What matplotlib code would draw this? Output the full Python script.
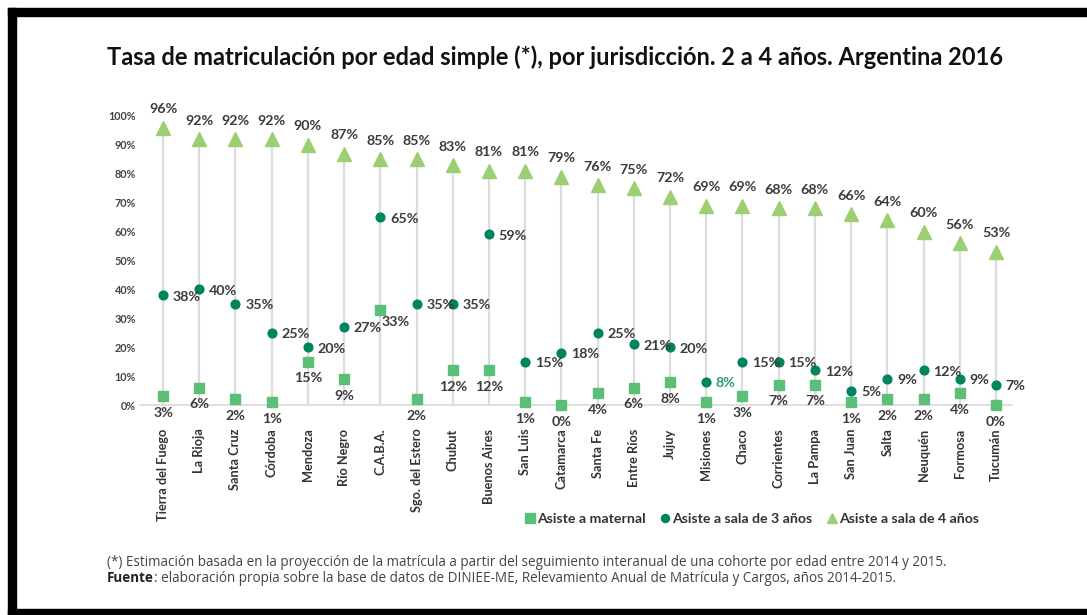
import matplotlib
matplotlib.use("Agg")
import matplotlib.pyplot as plt
from matplotlib.patches import Rectangle
from matplotlib.lines import Line2D

categories = ["Tierra del Fuego", "La Rioja", "Santa Cruz", "Córdoba", "Mendoza",
              "Río Negro", "C.A.B.A.", "Sgo. del Estero", "Chubut", "Buenos Aires",
              "San Luis", "Catamarca", "Santa Fe", "Entre Ríos", "Jujuy", "Misiones",
              "Chaco", "Corrientes", "La Pampa", "San Juan", "Salta", "Neuquén",
              "Formosa", "Tucumán"]
sala4 = [96, 92, 92, 92, 90, 87, 85, 85, 83, 81, 81, 79, 76, 75, 72, 69, 69, 68, 68, 66, 64, 60, 56, 53]
sala3 = [38, 40, 35, 25, 20, 27, 65, 35, 35, 59, 15, 18, 25, 21, 20, 8, 15, 15, 12, 5, 9, 12, 9, 7]
maternal = [3, 6, 2, 1, 15, 9, 33, 2, 12, 12, 1, 0, 4, 6, 8, 1, 3, 7, 7, 1, 2, 2, 4, 0]
yticks = [0, 10, 20, 30, 40, 50, 60, 70, 80, 90, 100]

title = "Tasa de matriculación por edad simple (*), por jurisdicción. 2 a 4 años. Argentina 2016"
legend_labels = ["Asiste a maternal", "Asiste a sala de 3 años", "Asiste a sala de 4 años"]
foot1 = "(*) Estimación basada en la proyección de la matrícula a partir del seguimiento interanual de una cohorte por edad entre 2014 y 2015."
foot2a = "Fuente"
foot2b = ": elaboración propia sobre la base de datos de DINIEE-ME, Relevamiento Anual de Matrícula y Cargos, años 2014-2015."

C_TRI = "#9ccf72"
C_SQ = "#5cbf78"
C_CIR = "#00845f"
C_LINE = "#dcdcdc"
C_TXT = "#3b3b3b"

plt.rcParams['font.family'] = ['Lato', 'DejaVu Sans']

W, H = 1087, 615
fig = plt.figure(figsize=(W / 100, H / 100), dpi=100)
fig.patch.set_facecolor("white")

# axes placement in pixels
x0_px, x_last_px = 163, 996
ax_left_px, ax_right_px = 140, 1012
y0_px, y100_px = 405, 116
step = (x_last_px - x0_px) / (len(categories) - 1)
xlim_lo = -(x0_px - ax_left_px) / step
xlim_hi = (len(categories) - 1) + (ax_right_px - x_last_px) / step

ax = fig.add_axes([ax_left_px / W, (H - y0_px) / H,
                   (ax_right_px - ax_left_px) / W, (y0_px - y100_px) / H])
ax.set_xlim(xlim_lo, xlim_hi)
ax.set_ylim(0, 100)
for s in ["top", "right", "left"]:
    ax.spines[s].set_visible(False)
ax.spines["bottom"].set_color("#d9d9d9")
ax.spines["bottom"].set_linewidth(1.2)

xs = list(range(len(categories)))
ax.vlines(xs, 0, sala4, color=C_LINE, linewidth=1.6, zorder=1)
ax.plot(xs, maternal, linestyle="none", marker="s", markersize=7.2, color=C_SQ, zorder=3, clip_on=False)
ax.plot(xs, sala3, linestyle="none", marker="o", markersize=6.3, color=C_CIR, zorder=3, clip_on=False)
ax.plot(xs, sala4, linestyle="none", marker="^", markersize=9.5, color=C_TRI, zorder=3, clip_on=False)

lab_kw = dict(textcoords="offset points", fontsize=10.3, fontweight="bold", color=C_TXT)
for i in xs:
    ax.annotate(f"{sala4[i]}%", (i, sala4[i]), xytext=(0, 9), ha="center", va="bottom", **lab_kw)
    col = "#2e9a78" if categories[i] == "Misiones" else C_TXT
    kw = dict(lab_kw)
    kw["color"] = col
    ax.annotate(f"{sala3[i]}%", (i, sala3[i]), xytext=(7, -1), ha="left", va="center", **kw)
    if categories[i] == "C.A.B.A.":
        ax.annotate(f"{maternal[i]}%", (i, maternal[i]), xytext=(1, -9), ha="left", va="center", **lab_kw)
    else:
        ax.annotate(f"{maternal[i]}%", (i, maternal[i]), xytext=(0, -12), ha="center", va="center", **lab_kw)

ax.set_yticks(yticks)
ax.set_yticklabels([f"{t}%" for t in yticks], fontsize=7.8, fontweight="bold", color="#444444")
ax.set_xticks(xs)
ax.set_xticklabels(categories, rotation=90, fontsize=9.2, fontweight="bold", color="#333333",
                   va="top", ha="center")
ax.tick_params(axis="x", length=0, pad=17)
ax.tick_params(axis="y", length=0, pad=3)

# legend
handles = [
    Line2D([], [], linestyle="none", marker="s", markersize=7.5, color=C_SQ),
    Line2D([], [], linestyle="none", marker="o", markersize=5.8, color=C_CIR),
    Line2D([], [], linestyle="none", marker="^", markersize=7, color=C_TRI),
]
leg = fig.legend(handles, legend_labels, loc="center", bbox_to_anchor=(751 / W, 1 - 519 / H),
                 ncol=3, frameon=False, handletextpad=0.0, columnspacing=0.9,
                 handlelength=1.0, prop=dict(size=10.2, weight="bold"))
for t in leg.get_texts():
    t.set_color("#333333")

# title
fig.text(107 / W, 1 - 57 / H, title, fontsize=17, fontweight="bold", color="#111111",
         ha="left", va="center")

# footnotes
foot_font = ['Open Sans', 'DejaVu Sans']
fs = 9.75
fig.text(107 / W, 1 - 562 / H, foot1, fontsize=fs, family=foot_font, color="#444444",
         ha="left", va="center")
t2 = fig.text(107 / W, 1 - 578 / H, foot2a, fontsize=fs, family=foot_font, fontweight="bold",
              color="#222222", ha="left", va="center")
renderer = fig.canvas.get_renderer()
bb = t2.get_window_extent(renderer=renderer)
fig.text(bb.x1 / W, 1 - 578 / H, foot2b, fontsize=fs, family=foot_font, color="#444444",
         ha="left", va="center")

# black frame
frame_kw = dict(transform=fig.transFigure, color="black", zorder=10)
fig.patches.append(Rectangle((8 / W, 1 - 16 / H), 1 - 8 / W, 8 / H, **frame_kw))
fig.patches.append(Rectangle((8 / W, 0), 8 / W, 1 - 8 / H, **frame_kw))
fig.patches.append(Rectangle((8 / W, 0), 1 - 8 / W, 6 / H, **frame_kw))

fig.savefig("out.png", dpi=100, facecolor="white")
